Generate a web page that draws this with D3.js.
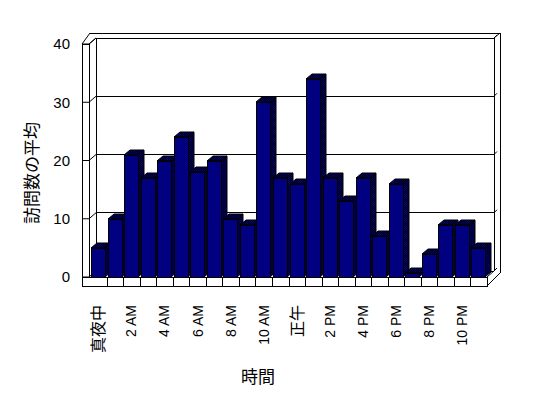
<!DOCTYPE html>
<html>
<head>
<meta charset="utf-8">
<script src="https://cdn.jsdelivr.net/npm/d3@7"></script>
<style>
  body { margin: 0; background: #fff; }
  text { font-family: "Liberation Sans", Arial, "Noto Sans CJK JP", sans-serif; fill: #000; }
</style>
</head>
<body>
<div id="chart"></div>
<script>
// hours of the day (every other one gets a label)
var hours = ['真夜中', '1 AM', '2 AM', '3 AM', '4 AM', '5 AM', '6 AM', '7 AM', '8 AM', '9 AM', '10 AM', '11 AM',
  '正午', '1 PM', '2 PM', '3 PM', '4 PM', '5 PM', '6 PM', '7 PM', '8 PM', '9 PM', '10 PM', '11 PM']
// average visits per hour
var visits = [5, 10, 21, 17, 20, 24, 18, 20, 10, 9, 30, 17, 16, 34, 17, 13, 17, 7, 16, 0.75, 4, 9, 9, 5]
var yTicks = [0, 10, 20, 30, 40]
var yTitle = '訪問数の平均'
var xTitle = '時間'

var W = 548, H = 398
// 3d box
var dim = {
  left: 90, right: 487,      // category range on the front floor edge
  base: 277, top: 44,        // front value range
  wallOuter: 82, wallInner: 89,
  floorBottom: 286,
  dx: 7, dy: -6,             // wall depth
  bdx: 6, bdy: -5,           // bar depth
  barW: 14,
  outerTop: 33, outerRight: 500
}

var svg = d3.select('#chart').append('svg')
  .attr('width', W).attr('height', H)

var defs = svg.append('defs')
var pat = defs.append('pattern').attr('id', 'dither')
  .attr('patternUnits', 'userSpaceOnUse').attr('width', 2).attr('height', 2)
pat.append('rect').attr('width', 2).attr('height', 2).attr('fill', '#000000')
pat.append('rect').attr('width', 1).attr('height', 1).attr('fill', '#000080')
pat.append('rect').attr('x', 1).attr('y', 1).attr('width', 1).attr('height', 1).attr('fill', '#000080')

var xScale = d3.scaleBand().domain(hours).range([dim.left, dim.right]).padding(0)
var yScale = d3.scaleLinear().domain([0, 40]).range([dim.base, dim.top])

var g = svg.append('g').attr('fill', 'none').attr('stroke', '#000')
  .attr('stroke-width', 1).attr('shape-rendering', 'crispEdges')

var bx0 = dim.wallInner + dim.dx, bx1 = dim.right + dim.dx

// back wall gridlines and wall edges
yTicks.forEach(function(t) {
  var yf = yScale(t), yb = yf + dim.dy
  g.append('line').attr('x1', bx0).attr('x2', bx1).attr('y1', yb).attr('y2', yb)
  g.append('polyline').attr('shape-rendering', 'auto')
    .attr('points', [[dim.wallOuter, yf], [dim.wallInner, yf], [bx0, yb]].join(' '))
  g.append('line').attr('shape-rendering', 'auto')
    .attr('x1', bx1).attr('y1', yb).attr('x2', bx1 + 3).attr('y2', yb - 3)
})

// back wall inner outline
g.append('line').attr('x1', bx0).attr('x2', bx0).attr('y1', yScale(40) + dim.dy).attr('y2', yScale(0) + dim.dy)
g.append('line').attr('x1', bx1).attr('x2', bx1).attr('y1', yScale(40) + dim.dy).attr('y2', yScale(0) + dim.dy)

// outer frame
g.append('line').attr('x1', dim.wallOuter).attr('x2', dim.wallOuter).attr('y1', dim.top).attr('y2', dim.floorBottom)
g.append('line').attr('x1', dim.wallInner).attr('x2', dim.wallInner).attr('y1', dim.top).attr('y2', dim.base)
g.append('line').attr('x1', dim.wallOuter).attr('x2', dim.wallInner).attr('y1', dim.top).attr('y2', dim.top)
g.append('line').attr('shape-rendering', 'auto')
  .attr('x1', dim.wallOuter).attr('y1', dim.top).attr('x2', dim.wallOuter + 8).attr('y2', dim.outerTop)
g.append('line').attr('shape-rendering', 'auto')
  .attr('x1', dim.wallInner).attr('y1', dim.top).attr('x2', bx0).attr('y2', dim.top + dim.dy)
g.append('line').attr('x1', dim.wallOuter + 8).attr('x2', dim.outerRight).attr('y1', dim.outerTop).attr('y2', dim.outerTop)
g.append('line').attr('x1', dim.outerRight).attr('x2', dim.outerRight).attr('y1', dim.outerTop).attr('y2', dim.base - 4)
g.append('line').attr('shape-rendering', 'auto')
  .attr('x1', bx1).attr('y1', dim.top + dim.dy).attr('x2', dim.outerRight).attr('y2', dim.outerTop)
g.append('line').attr('shape-rendering', 'auto')
  .attr('x1', dim.right).attr('y1', dim.floorBottom).attr('x2', dim.outerRight).attr('y2', dim.base - 4)
g.append('line').attr('shape-rendering', 'auto')
  .attr('x1', dim.right).attr('y1', dim.base).attr('x2', bx1).attr('y2', dim.base + dim.dy)

// floor front face
g.append('rect').attr('x', dim.wallOuter).attr('y', dim.base)
  .attr('width', dim.right - dim.wallOuter).attr('height', dim.floorBottom - dim.base).attr('fill', '#fff')
hours.forEach(function(h, i) {
  if (i === 0) return
  var x = Math.round(xScale(h))
  g.append('line').attr('x1', x).attr('x2', x).attr('y1', dim.base).attr('y2', dim.floorBottom)
})

// bars
var bars = svg.append('g').attr('stroke', '#000').attr('stroke-width', 1)
hours.forEach(function(h, i) {
  var x0 = Math.round(xScale(h)) + 1
  var x1 = x0 + dim.barW
  var yv = Math.round(yScale(visits[i]))
  var yb = dim.base
  var b = bars.append('g')
  b.append('polygon').attr('fill', 'url(#dither)')
    .attr('points', [[x1, yv], [x1 + dim.bdx, yv + dim.bdy], [x1 + dim.bdx, yb + dim.bdy], [x1, yb]].join(' '))
  b.append('polygon').attr('fill', 'url(#dither)')
    .attr('points', [[x0, yv], [x0 + dim.bdx, yv + dim.bdy], [x1 + dim.bdx, yv + dim.bdy], [x1, yv]].join(' '))
  b.append('rect').attr('shape-rendering', 'crispEdges').attr('fill', '#000080')
    .attr('x', x0 + 0.5).attr('y', yv + 0.5).attr('width', dim.barW).attr('height', yb - yv)
})

// y labels
svg.append('g').selectAll('text').data(yTicks).enter().append('text')
  .attr('x', 70).attr('y', function(d) { return yScale(d) })
  .attr('dy', '0.36em').attr('text-anchor', 'end').attr('fill', '#000')
  .style('font-size', '15px')
  .text(function(d) { return d })

// x labels, every second hour
svg.append('g').selectAll('text').data(hours.filter(function(d, i) { return i % 2 === 0 })).enter()
  .append('text')
  .attr('transform', function(d) {
    return 'translate(' + (xScale(d) + xScale.bandwidth() / 2) + ',305) rotate(-90)'
  })
  .attr('text-anchor', 'end').attr('dy', '0.36em').attr('fill', '#000')
  .style('font-size', function(d) { return /[A-Z]/.test(d) ? '14px' : '16px' })
  .text(function(d) { return d })

svg.append('text').attr('transform', 'translate(32,173) rotate(-90)')
  .attr('text-anchor', 'middle').attr('dy', '0.36em').attr('fill', '#000')
  .style('font-size', '17px').text(yTitle)

svg.append('text').attr('x', 258).attr('y', 377)
  .attr('text-anchor', 'middle').attr('dy', '0.36em').attr('fill', '#000')
  .style('font-size', '17px').text(xTitle)
</script>
</body>
</html>
